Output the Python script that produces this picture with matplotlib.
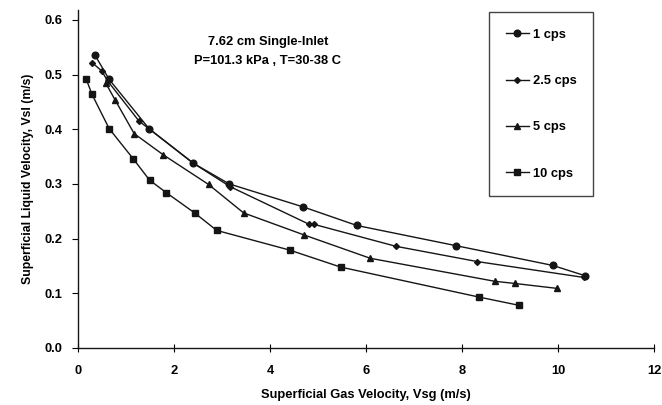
import matplotlib
matplotlib.use("Agg")
import matplotlib.pyplot as plt

plt.rcParams['font.family'] = ['Liberation Sans', 'DejaVu Sans']

# Data
vsg_1 = [0.35, 0.65, 1.48, 2.40, 3.15, 4.69, 5.81, 7.88, 9.89, 10.57]
vsl_1 = [0.536, 0.491, 0.401, 0.338, 0.300, 0.258, 0.224, 0.187, 0.151, 0.132]

vsg_25 = [0.29, 0.49, 0.62, 1.27, 2.40, 3.17, 4.82, 4.92, 6.62, 8.32, 10.54]
vsl_25 = [0.522, 0.507, 0.488, 0.415, 0.338, 0.295, 0.226, 0.226, 0.186, 0.158, 0.129]

vsg_5 = [0.58, 0.77, 1.17, 1.78, 2.72, 3.45, 4.70, 6.09, 8.68, 9.10, 9.98]
vsl_5 = [0.484, 0.454, 0.392, 0.353, 0.299, 0.247, 0.207, 0.164, 0.122, 0.118, 0.109]

vsg_10 = [0.17, 0.29, 0.65, 1.15, 1.49, 1.84, 2.43, 2.89, 4.41, 5.47, 8.36, 9.19]
vsl_10 = [0.492, 0.464, 0.401, 0.346, 0.307, 0.284, 0.247, 0.215, 0.179, 0.148, 0.093, 0.078]

labels = ['1 cps', '2.5 cps', '5 cps', '10 cps']
x_ticks = [0, 2, 4, 6, 8, 10, 12]
y_ticks = [0.0, 0.1, 0.2, 0.3, 0.4, 0.5, 0.6]

FS = 9.3

fig = plt.figure(figsize=(6.62, 4.05), dpi=100)
ax = fig.add_axes([78/662, 57/405, 576/662, 338/405])

c = '#151515'
ax.plot(vsg_1, vsl_1, '-o', color=c, lw=1.0, ms=4.8, label=labels[0])
ax.plot(vsg_25, vsl_25, '-D', color=c, lw=1.0, ms=3.0, label=labels[1])
ax.plot(vsg_5, vsl_5, '-^', color=c, lw=1.0, ms=4.8, label=labels[2])
ax.plot(vsg_10, vsl_10, '-s', color=c, lw=1.0, ms=4.5, label=labels[3])

ax.set_xlim(0, 12)
ax.set_ylim(0, 0.618)
ax.set_xticks(x_ticks)
ax.set_yticks(y_ticks)
ax.set_xticklabels([str(v) for v in x_ticks], fontsize=FS, fontweight='bold')
ax.set_yticklabels([f'{v:.1f}' for v in y_ticks], fontsize=FS, fontweight='bold')
ax.tick_params(axis='x', direction='inout', length=6, width=0.8, pad=9)
ax.tick_params(axis='y', direction='out', length=4, width=0.8, pad=7)
for s in ['top', 'right']:
    ax.spines[s].set_visible(False)
for s in ['left', 'bottom']:
    ax.spines[s].set_linewidth(1.0)
    ax.spines[s].set_color(c)

ax.set_xlabel('Superficial Gas Velocity, Vsg (m/s)', fontsize=FS, fontweight='bold', labelpad=9)
ax.set_ylabel('Superficial Liquid Velocity, Vsl (m/s)', fontsize=8.8, fontweight='bold', labelpad=8)

fig.text(268/662, 1 - 42/405, '7.62 cm Single-Inlet', ha='center', va='center',
         fontsize=FS, fontweight='bold')
fig.text(268/662, 1 - 61/405, 'P=101.3 kPa , T=30-38 C', ha='center', va='center',
         fontsize=FS, fontweight='bold')

leg = ax.legend(loc='upper left', bbox_to_anchor=(489/662, 1 - 12/405),
                bbox_transform=fig.transFigure, frameon=True, fancybox=False,
                edgecolor=c, prop={'weight': 'bold', 'size': FS},
                labelspacing=2.65, borderpad=1.3, handlelength=1.8,
                handletextpad=0.3, borderaxespad=0)
leg.get_frame().set_linewidth(1.0)

fig.savefig('out.png', dpi=100)
